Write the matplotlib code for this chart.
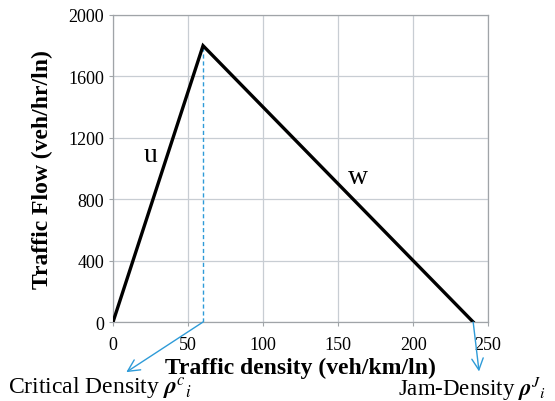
import matplotlib.pyplot as plt

plt.rcParams['font.family'] = ['Liberation Serif', 'DejaVu Serif']
plt.rcParams['mathtext.fontset'] = 'stix'

# fundamental diagram (triangular)
density = [0, 60, 240]
flow = [0, 1800, 0]
critical_density = 60
jam_density = 240
xticks = [0, 50, 100, 150, 200, 250]
yticks = [0, 400, 800, 1200, 1600, 2000]

fig = plt.figure(figsize=(5.55, 4.02), dpi=100)
ax = fig.add_axes([0.2036, 0.1965, 0.676, 0.7637])

ax.plot(density, flow, color='black', lw=2.4, solid_joinstyle='miter', zorder=3)
ax.plot([critical_density, critical_density], [0, max(flow)], color='#2e9bd8',
        lw=1.0, ls=(0, (3, 2)), zorder=2)

ax.set_xlim(0, 250)
ax.set_ylim(0, 2000)
ax.set_xticks(xticks)
ax.set_yticks(yticks)
ax.grid(True, color='#c8cdd3', lw=0.9)
ax.set_axisbelow(True)
for s in ax.spines.values():
    s.set_color('#a0a4a8')
    s.set_linewidth(0.9)
ax.tick_params(length=3, color='#a0a4a8', labelsize=13)
ax.tick_params(axis='x', pad=7)

ax.set_xlabel('Traffic density (veh/km/ln)', fontsize=17, fontweight='bold')
ax.set_ylabel('Traffic Flow (veh/hr/ln)', fontsize=17, fontweight='bold')
ax.xaxis.set_label_coords(0.5, -0.1466)
ax.xaxis.label.set_va('center')
ax.yaxis.set_label_coords(-0.187, 0.5)
ax.yaxis.label.set_va('center')

ax.text(25, 1094, 'u', fontsize=20, ha='center', va='center')
ax.text(163, 951, 'w', fontsize=20, ha='center', va='center')

# annotations below the axis
arrow = dict(arrowstyle='<-, head_length=0.5, head_width=0.25', color='#2e9bd8',
             lw=1.0, shrinkA=0, shrinkB=0)
ax.annotate(r'Critical Density $\boldsymbol{\rho}^{c}{}_{i}$',
            xy=(critical_density, 0), xytext=(100, 13), textcoords='figure pixels',
            ha='center', va='center', fontsize=17, annotation_clip=False,
            arrowprops=dict(arrow, relpos=(0.62, 1.0)))
ax.annotate(r'Jam-Density $\boldsymbol{\rho}^{J}{}_{i}$',
            xy=(jam_density, 0), xytext=(472, 13), textcoords='figure pixels',
            ha='center', va='center', fontsize=16.5, annotation_clip=False,
            arrowprops=dict(arrow, relpos=(0.55, 1.0)))

fig.savefig('out.png', dpi=100)
